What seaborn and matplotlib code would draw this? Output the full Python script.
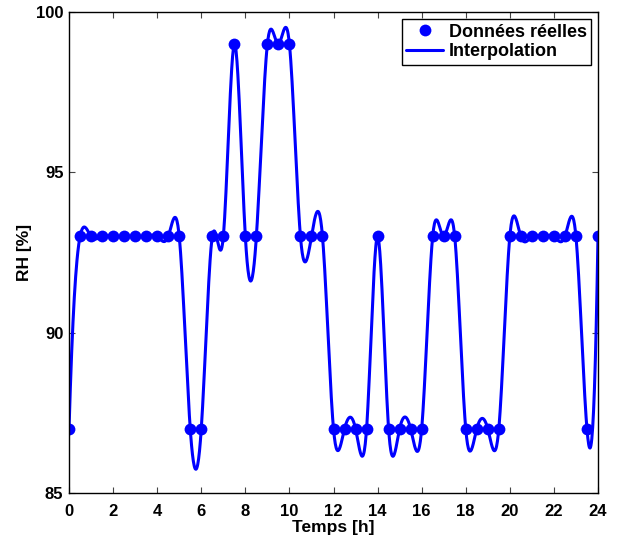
import numpy as np
import pandas as pd
import matplotlib
matplotlib.use("Agg")
import matplotlib.pyplot as plt
import seaborn as sns

# measured values, one every half hour
hours = np.arange(0, 24.5, 0.5)
rh = [87, 93, 93, 93, 93, 93, 93, 93, 93, 93, 93, 87, 87, 93, 93, 99, 93, 93,
      99, 99, 99, 93, 93, 93, 87, 87, 87, 87, 93, 87, 87, 87, 87, 93, 93, 93,
      87, 87, 87, 87, 93, 93, 93, 93, 93, 93, 93, 87, 93]

x_ticks = list(range(0, 25, 2))
y_ticks = [85, 90, 95, 100]


def spline_not_a_knot(x, y, xq):
    # cubic spline like matlab's spline() (not-a-knot ends)
    x = np.asarray(x, float)
    y = np.asarray(y, float)
    n = len(x)
    h = np.diff(x)
    A = np.zeros((n, n))
    b = np.zeros(n)
    A[0, 0], A[0, 1], A[0, 2] = h[1], -(h[0] + h[1]), h[0]
    A[-1, -3], A[-1, -2], A[-1, -1] = h[-1], -(h[-2] + h[-1]), h[-2]
    for i in range(1, n - 1):
        A[i, i - 1] = h[i - 1]
        A[i, i] = 2 * (h[i - 1] + h[i])
        A[i, i + 1] = h[i]
        b[i] = 6 * ((y[i + 1] - y[i]) / h[i] - (y[i] - y[i - 1]) / h[i - 1])
    M = np.linalg.solve(A, b)
    idx = np.clip(np.searchsorted(x, xq) - 1, 0, n - 2)
    hi = h[idx]
    a = x[idx + 1] - xq
    c = xq - x[idx]
    return (M[idx] * a**3 / (6 * hi) + M[idx + 1] * c**3 / (6 * hi)
            + (y[idx] / hi - M[idx] * hi / 6) * a
            + (y[idx + 1] / hi - M[idx + 1] * hi / 6) * c)


t_fine = np.linspace(0, 24, 1201)
rh_fine = spline_not_a_knot(hours, rh, t_fine)

df_pts = pd.DataFrame({"Temps": hours, "RH": rh})
df_fit = pd.DataFrame({"Temps": t_fine, "RH": rh_fine})

sns.set_style("ticks")
plt.rcParams["font.family"] = ["Liberation Sans", "DejaVu Sans"]
plt.rcParams["font.weight"] = "bold"
plt.rcParams["text.color"] = "black"
plt.rcParams["axes.labelcolor"] = "black"
plt.rcParams["xtick.labelcolor"] = "black"
plt.rcParams["ytick.labelcolor"] = "black"

fig = plt.figure(figsize=(6.18, 5.43), dpi=100)
ax = fig.add_axes([0.1117, 0.0921, 0.8559, 0.8858])

sns.lineplot(data=df_pts, x="Temps", y="RH", ax=ax, linestyle="none",
             marker="o", markersize=8.5, markeredgewidth=0, color="#0000ff",
             label="Données réelles")
sns.lineplot(data=df_fit, x="Temps", y="RH", ax=ax, color="#0000ff",
             linewidth=2.2, label="Interpolation")

ax.set_xlim(0, 24)
ax.set_ylim(85, 100)
ax.set_xticks(x_ticks)
ax.set_yticks(y_ticks)
ax.tick_params(direction="in", length=4, width=0.8, top=True, right=True,
               labelsize=12, color="#444444")
ax.tick_params(axis="x", pad=8)
ax.tick_params(axis="y", pad=4)
for lab in ax.get_xticklabels() + ax.get_yticklabels():
    lab.set_fontweight("bold")
for s in ax.spines.values():
    s.set_linewidth(1.0)
    s.set_color("black")
ax.set_xlabel("Temps [h]", fontsize=12.5, fontweight="bold", labelpad=1)
ax.set_ylabel("RH [%]", fontsize=12.5, fontweight="bold", labelpad=3)

leg = ax.legend(loc="upper right", bbox_to_anchor=(0.987, 0.985),
                borderaxespad=0, fancybox=False, framealpha=1,
                edgecolor="black", fontsize=13, handlelength=2.05,
                handletextpad=0.3, borderpad=0.25, labelspacing=0.15,
                numpoints=1)
leg.get_frame().set_linewidth(1.0)
for t in leg.get_texts():
    t.set_fontweight("bold")

fig.savefig("out.png", dpi=100)
